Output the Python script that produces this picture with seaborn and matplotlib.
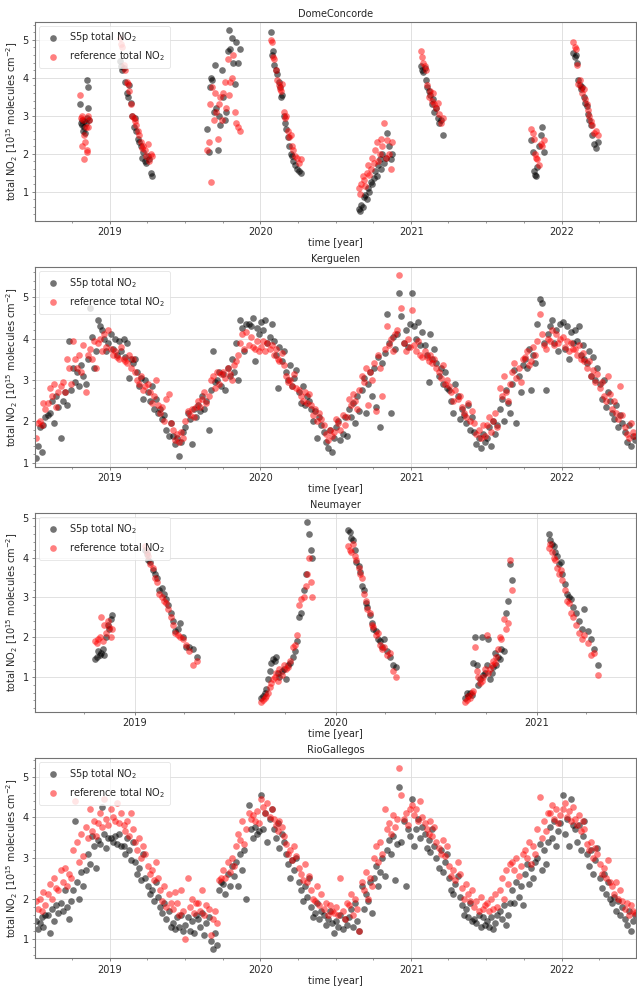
import numpy as np
import pandas as pd
import matplotlib
matplotlib.use("Agg")
import matplotlib.pyplot as plt
import matplotlib.dates as mdates
from matplotlib.ticker import AutoMinorLocator
import seaborn as sns

# ---------------- data (days since 2018-07-01) ----------------
# DomeConcorde
dc_day = [112,114,116,117,119,120,122,123,125,127,128,130,131,133,
          208,211,214,218,221,224,228,231,234,238,241,245,248,251,255,258,262,265,268,272,275,279,283,287,
          420,423,426,429,432,436,439,442,446,449,452,456,459,462,466,469,472,476,479,482,486,490,495,500,
          574,577,580,583,586,590,593,596,599,602,606,609,612,616,619,622,626,629,633,637,642,648,
          787,790,793,797,800,803,807,810,813,817,820,824,827,831,834,838,841,845,849,853,857,861,865,869,
          938,941,944,947,950,954,957,960,964,967,971,975,979,983,987,991,
          1206,1209,1212,1215,1218,1221,1225,1229,1233,1237,
          1308,1311,1314,1317,1320,1323,1327,1330,1333,1337,1340,1343,1347,1350,1354,1358,1362,1367]
dc_s5p = [3.3,2.8,2.75,2.9,2.6,2.85,2.7,2.55,2.8,2.95,3.95,3.75,3.2,2.9,
          4.45,4.3,4.2,4.25,3.9,3.6,3.5,3.8,3.35,3.0,2.7,2.95,2.6,2.4,2.3,2.2,1.9,2.05,1.8,1.75,1.95,1.85,1.5,1.4,
          2.65,2.05,3.75,4.0,3.95,3.1,4.35,3.2,2.1,3.0,2.75,4.2,3.5,2.9,3.1,4.7,5.25,4.75,5.05,4.4,3.85,4.95,4.4,4.75,
          5.2,4.6,4.7,4.35,4.2,4.1,3.9,3.75,3.5,3.55,3.0,2.8,2.65,2.45,2.2,2.0,1.95,1.8,1.7,1.6,1.55,1.5,
          0.55,0.5,0.65,0.6,0.85,0.9,0.8,1.1,1.0,1.25,1.2,1.35,1.55,1.4,1.7,1.85,1.6,2.0,1.75,1.9,2.55,2.2,1.85,2.0,
          4.3,4.2,4.15,4.25,3.95,3.75,3.65,3.55,3.3,3.45,3.1,3.2,2.95,2.8,2.9,2.5,
          2.35,2.05,1.55,1.45,1.4,1.65,2.2,2.5,2.7,2.05,
          4.65,4.55,4.6,4.4,3.95,3.8,3.7,3.75,3.5,3.35,3.25,3.05,2.9,2.75,2.5,2.25,2.15,2.3]
dc_ref = [3.55,2.95,3.0,2.2,2.9,1.85,2.5,2.3,2.7,2.1,2.05,3.0,2.7,2.9,
          5.05,4.9,4.8,4.35,4.2,3.9,3.85,3.65,3.3,3.0,2.95,2.85,2.75,2.6,2.5,2.3,2.15,2.2,2.1,1.95,2.25,1.8,2.0,1.95,
          2.1,2.3,3.3,1.25,3.75,2.9,3.6,3.1,2.4,3.3,3.5,2.9,3.6,3.9,3.2,4.5,3.55,3.9,4.0,4.6,3.1,2.8,2.7,2.6,
          5.0,4.95,4.55,4.5,4.2,3.95,3.8,3.7,3.65,3.85,3.1,2.95,3.0,2.6,2.45,2.5,2.2,2.1,1.95,1.9,1.75,1.85,
          1.1,0.95,1.2,1.4,1.3,1.15,1.5,1.7,1.45,1.6,1.9,1.75,2.1,2.3,1.8,2.0,2.4,2.2,2.8,1.9,2.35,2.0,1.6,2.3,
          4.7,4.55,4.4,4.3,4.2,3.8,3.5,3.65,3.4,3.6,3.3,3.2,3.35,3.05,2.8,2.95,
          2.65,2.55,2.4,2.0,1.9,1.85,1.7,2.25,2.2,2.35,
          4.95,4.8,4.75,4.35,3.85,3.95,3.75,3.6,3.7,3.45,3.3,3.15,3.0,2.85,2.75,2.55,2.6,2.5]

# Neumayer
nm_day = [111,114,117,120,122,125,128,131,134,137,140,142,
          202,205,208,212,216,220,224,228,233,237,241,245,249,253,257,262,266,271,276,282,289,297,
          414,417,420,423,426,429,432,435,438,441,444,447,451,455,459,463,467,471,475,479,483,487,491,495,498,501,504,507,
          572,575,578,581,584,587,591,594,597,600,604,607,611,615,618,622,626,630,634,638,643,648,654,660,
          785,788,791,794,797,800,803,806,809,812,815,818,821,824,827,830,833,836,839,842,845,848,851,855,859,863,867,871,
          937,940,943,946,949,952,956,959,962,966,970,974,978,982,987,992,997,1002,1008,1014,1020,1027]
nm_s5p = [1.45,1.5,1.65,1.55,1.6,1.7,1.55,2.0,2.3,2.2,2.45,2.57,
          4.2,4.1,3.95,3.9,3.7,3.6,3.5,3.2,3.25,3.1,2.95,2.8,2.6,2.4,2.15,2.2,2.35,2.0,1.75,1.75,1.7,1.5,
          0.45,0.5,0.6,0.7,0.95,1.15,1.35,1.45,1.4,1.5,1.1,1.0,1.15,1.2,0.95,1.3,1.35,1.5,1.65,1.9,2.5,2.6,3.2,3.6,4.9,4.6,4.2,4.0,
          4.7,4.65,4.5,4.45,4.2,3.9,3.8,3.65,3.3,3.2,2.85,2.75,2.55,2.35,2.2,2.15,1.95,1.9,1.75,1.95,1.65,1.5,1.3,1.25,
          0.45,0.6,0.5,0.6,0.55,1.35,2.0,1.3,0.8,0.95,2.0,1.05,1.1,1.3,1.95,0.95,1.1,1.25,1.6,1.3,1.5,1.45,1.7,1.65,2.6,2.9,3.85,3.45,
          4.6,4.45,4.35,4.3,4.15,4.05,3.85,3.9,3.6,3.35,3.1,3.0,2.95,2.75,2.6,2.4,2.2,2.7,2.15,1.95,1.7,1.3]
nm_ref = [1.9,1.85,1.95,2.0,2.5,1.9,2.3,2.1,2.4,2.25,2.0,2.2,
          4.3,4.15,4.05,3.85,3.75,3.5,3.4,3.1,3.0,2.9,2.85,2.7,2.5,2.3,2.1,2.05,2.0,1.95,1.8,1.65,1.3,1.4,
          0.35,0.4,0.45,0.5,0.6,0.75,0.85,0.95,1.0,1.1,0.9,1.2,1.05,1.3,1.2,1.25,1.4,1.75,1.8,2.05,2.8,2.95,3.0,3.3,3.6,4.0,3.4,3.0,
          4.3,4.2,4.15,4.35,4.05,3.95,3.75,3.6,3.5,3.1,2.9,2.7,2.6,2.3,2.25,2.05,2.1,1.8,1.7,1.75,1.55,1.6,1.15,1.0,
          0.35,0.4,0.5,0.45,0.6,0.65,1.75,1.15,1.0,0.85,0.9,1.0,1.2,2.05,1.1,1.2,1.3,1.4,1.35,1.5,1.7,2.0,1.95,2.45,2.2,2.35,3.94,3.2,
          4.25,4.35,4.15,4.0,3.95,3.75,3.6,3.7,3.45,3.2,2.9,2.85,2.6,2.5,2.3,2.1,1.95,2.05,1.85,1.55,1.6,1.05]

# Kerguelen and RioGallegos share the same observation days
dense_day = [5,9,13,18,22,27, 33,38,43,48,53,58, 64,69,74,79,84,89, 94,99,104,109,114,119,
             125,130,135,140,145,150, 155,160,165,170,175,180, 186,191,196,201,206,211, 217,221,226,230,235,240,
             245,250,255,260,265,270, 276,281,286,291,296,301, 306,311,316,321,326,331, 337,342,347,352,357,362,
             367,372,377,382,387,392, 398,403,408,413,418,423, 429,434,439,444,449,454, 459,464,469,474,479,484,
             490,495,500,505,510,515, 520,525,530,535,540,545, 551,556,561,566,571,576, 582,586,591,595,600,605,
             611,616,621,626,631,636, 642,647,652,657,662,667, 672,677,682,687,692,697, 703,708,713,718,723,728,
             733,738,743,748,753,758, 764,769,774,779,784,789, 795,800,805,810,815,820, 825,830,835,840,845,850,
             856,861,866,871,876,881, 886,891,896,901,906,911, 917,922,927,932,937,942, 948,952,957,961,966,970,
             976,981,986,991,996,1001, 1007,1012,1017,1022,1027,1032, 1037,1042,1047,1052,1057,1062, 1068,1073,1078,1083,1088,1093,
             1098,1103,1108,1113,1118,1123, 1129,1134,1139,1144,1149,1154, 1160,1165,1170,1175,1180,1185, 1190,1195,1200,1205,1210,1215,
             1221,1226,1231,1236,1241,1246, 1251,1256,1261,1266,1271,1276, 1282,1287,1292,1297,1302,1307, 1313,1317,1322,1326,1331,1335,
             1341,1346,1351,1356,1361,1366, 1372,1377,1382,1387,1392,1397, 1402,1407,1412,1417,1422,1427, 1433,1438,1443,1448,1453,1458]

kg_s5p = [1.1,1.4,1.85,1.25,1.9,2.1, 2.15,2.2,2.5,1.95,2.6,2.35, 1.6,2.5,2.7,2.4,3.95,2.75, 3.3,2.95,3.2,2.85,3.35,3.1,
          2.9,3.5,4.75,4.05,3.3,3.7, 4.45,4.3,4.2,4.0,3.7,3.9, 4.1,3.75,4.0,3.6,3.95,3.7, 4.0,3.55,3.9,3.05,3.5,3.4,
          3.5,3.2,2.85,3.05,2.55,3.0, 2.7,2.5,2.85,2.3,2.55,2.2, 2.3,2.05,2.15,1.8,1.65,1.95, 1.65,1.45,1.6,1.15,1.5,1.75,
          1.85,2.2,2.05,1.45,2.3,2.1, 2.4,2.25,2.6,2.3,2.5,1.8, 2.75,3.7,2.95,3.0,3.2,2.85, 3.15,2.75,3.3,3.1,3.5,3.2,
          3.9,3.0,4.45,4.25,3.7,4.35, 4.35,4.3,4.5,3.45,4.25,4.1, 4.4,4.2,4.45,3.9,4.05,4.35, 3.95,3.6,2.8,3.8,3.45,3.7,
          3.2,3.0,3.35,2.85,3.05,3.25, 2.7,2.45,2.85,2.4,2.6,2.5, 2.3,2.0,2.25,1.6,2.1,1.9, 1.75,1.5,1.35,1.8,1.25,1.6,
          1.85,2.0,1.55,1.7,2.1,1.65, 2.3,2.1,2.45,1.95,2.6,2.25, 2.75,3.05,2.2,2.9,3.2,2.6, 3.3,2.35,3.55,1.85,3.4,3.65,
          4.6,3.9,2.2,4.05,3.75,4.1, 5.1,4.55,3.9,4.2,3.8,4.35, 5.1,4.3,4.0,4.4,3.85,4.15, 3.85,3.6,2.95,4.1,3.5,3.75,
          3.4,3.1,3.3,2.9,3.2,2.8, 2.75,2.5,2.2,2.9,2.6,2.05, 2.3,2.15,1.95,2.4,1.8,2.1, 1.75,1.45,1.6,1.35,1.7,1.5,
          1.6,1.85,1.4,2.0,1.7,1.9, 2.3,2.55,2.0,2.75,2.45,2.2, 2.9,3.25,1.95,3.1,2.7,3.35, 3.5,3.3,3.75,2.75,3.6,3.4,
          4.35,4.95,4.85,3.9,2.75,4.1, 4.3,4.45,3.9,4.2,3.7,4.35, 4.4,3.75,4.3,3.5,4.15,3.9, 4.2,3.95,4.3,3.6,3.85,3.5,
          3.4,3.7,3.1,3.55,3.0,3.3, 2.9,2.55,3.0,2.35,2.7,2.5, 2.2,2.05,2.4,1.85,2.15,1.95, 1.75,1.5,1.9,1.4,1.65,1.55]
kg_ref = [1.6,1.95,2.0,1.9,2.45,2.3, 2.45,2.8,2.6,2.9,2.35,2.7, 2.85,2.95,2.7,3.5,3.3,2.9, 3.95,3.5,3.3,3.6,3.2,3.85,
          2.7,3.6,3.75,3.5,3.95,3.3, 3.9,4.0,3.7,4.1,3.8,4.2, 3.75,3.6,3.7,3.55,3.5,3.8, 3.5,3.45,3.4,3.6,3.3,3.5,
          3.2,3.0,2.9,3.1,2.75,2.85, 2.9,2.7,2.45,2.6,3.0,2.4, 2.2,2.35,2.0,2.55,2.65,1.95, 1.8,1.55,1.7,1.5,1.75,1.6,
          2.0,2.25,2.15,2.3,2.1,2.35, 2.5,2.35,2.55,2.7,2.45,2.6, 3.0,3.1,2.8,3.2,2.9,3.15, 3.2,3.05,3.3,3.15,3.0,3.35,
          3.45,3.6,3.9,4.1,3.75,4.15, 3.85,4.05,3.8,3.75,3.95,3.7, 3.8,3.95,3.7,3.9,3.75,3.85, 3.6,3.75,3.5,3.45,3.65,3.35,
          3.1,2.95,3.0,2.85,3.15,2.8, 2.75,2.6,2.5,2.7,2.45,2.65, 2.4,2.15,2.3,2.0,2.2,2.05, 1.9,1.7,1.55,1.8,1.65,1.75,
          2.05,1.95,1.8,2.15,1.9,2.1, 2.55,2.4,2.65,2.5,2.3,2.75, 3.1,2.95,3.3,2.4,3.2,3.0, 3.4,2.25,3.6,3.3,2.6,3.75,
          4.3,3.85,4.0,3.7,4.1,4.2, 5.55,4.75,3.9,3.7,4.0,3.8, 4.7,3.85,3.7,3.95,3.6,3.55, 3.7,3.55,3.45,3.6,3.4,3.5,
          3.3,3.2,3.05,3.35,2.9,3.0, 2.85,2.7,2.5,2.75,2.55,2.6, 2.35,2.2,2.1,2.45,2.0,2.25, 1.95,1.7,1.8,1.6,1.9,1.65,
          1.9,2.1,1.75,2.0,2.2,1.85, 2.8,2.6,3.1,2.7,2.5,2.9, 3.2,3.4,3.05,3.3,2.95,3.5, 3.55,3.7,3.35,3.45,3.8,3.6,
          3.95,4.6,4.1,3.85,3.75,4.0, 3.95,4.2,3.85,4.1,3.9,4.0, 4.05,3.8,3.95,3.7,3.9,3.75, 3.75,3.6,3.85,3.5,3.65,3.45,
          3.3,3.45,3.1,3.25,2.95,3.15, 2.8,2.95,2.6,2.5,3.1,2.65, 2.3,2.5,2.2,2.05,2.85,2.15, 1.85,1.7,1.6,1.95,1.75,1.65]

rg_s5p = [1.45,1.25,1.4,1.55,1.3,1.6, 1.6,1.15,1.75,1.45,1.85,1.65, 1.9,1.7,2.2,1.8,1.5,1.95, 2.2,3.9,2.4,2.0,2.65,2.3,
          2.7,3.1,2.85,3.55,3.3,2.75, 3.45,3.35,4.25,3.6,3.25,3.5, 3.5,3.4,3.55,3.35,3.6,3.3, 3.3,3.1,3.5,3.2,2.95,3.4,
          2.9,2.6,2.75,2.45,3.1,2.5, 2.3,2.1,2.2,1.95,2.4,2.05, 1.8,1.65,1.9,1.5,1.7,1.3, 1.4,1.25,1.55,1.3,1.6,1.2,
          1.35,1.55,1.2,1.45,1.15,1.6, 1.5,1.3,1.65,1.1,1.4,1.55, 0.95,0.75,1.15,0.85,2.2,2.4, 2.35,2.1,2.6,2.3,2.8,2.55,
          2.9,2.3,3.1,2.7,3.2,2.0, 4.3,3.7,3.5,3.75,3.6,3.65, 4.55,3.7,4.1,3.4,3.95,4.2, 3.7,3.5,3.85,3.25,3.6,3.4,
          3.1,2.85,2.5,2.95,2.7,3.0, 2.4,2.2,1.95,2.3,2.05,2.5, 1.8,1.55,1.65,1.9,1.5,1.7, 1.6,1.35,1.5,1.7,1.4,1.15,
          1.45,1.3,1.6,1.25,1.5,1.35, 1.55,1.75,1.3,1.9,1.45,1.2, 2.3,1.75,2.1,1.95,2.4,1.65, 2.5,2.8,2.3,2.65,3.0,2.55,
          3.2,3.45,3.1,3.55,2.45,3.35, 4.75,3.4,3.9,2.3,3.7,3.55, 4.45,3.3,3.7,3.95,3.5,3.75, 3.6,3.25,3.45,3.15,3.7,3.3,
          3.0,2.75,3.2,2.65,2.9,3.1, 2.5,2.2,2.1,2.35,2.55,2.05, 1.85,1.6,1.75,1.55,1.9,1.45, 1.5,1.4,1.6,1.3,1.55,1.35,
          1.45,1.3,1.55,1.25,1.4,1.6, 1.7,1.5,1.85,1.35,1.6,1.9, 2.2,1.9,2.4,2.05,2.3,1.85, 2.6,2.85,2.35,2.75,2.5,2.9,
          3.0,3.35,2.7,3.2,2.85,3.4, 3.75,3.5,3.9,3.3,3.65,3.85, 4.55,3.6,3.95,3.3,4.45,3.8, 3.7,3.4,3.8,3.2,3.55,3.9,
          3.1,2.8,3.2,2.6,2.95,3.25, 2.5,2.25,2.6,2.1,2.4,2.0, 1.9,2.05,1.7,1.95,1.6,1.8, 1.5,1.35,1.7,1.2,1.45,1.6]
rg_ref = [1.95,1.75,2.0,1.7,2.15,1.85, 2.1,2.35,2.0,2.5,2.25,2.2, 2.7,2.4,2.75,2.3,2.6,2.5, 3.2,4.4,3.4,2.9,3.6,3.05,
          3.75,3.5,4.2,3.65,3.9,3.55, 3.85,4.1,3.75,4.45,3.95,3.8, 4.2,4.0,3.9,4.35,3.85,4.1, 3.8,3.65,3.9,3.55,4.1,3.7,
          3.4,3.2,3.5,3.0,3.3,3.1, 2.8,2.6,2.7,2.45,2.9,2.5, 2.2,1.95,2.3,1.8,2.1,1.9, 1.75,2.15,1.9,1.6,2.2,1.7,
          1.0,2.5,1.8,2.0,1.65,1.9, 1.9,1.7,2.2,1.6,1.85,1.75, 1.1,1.5,1.7,1.4,2.45,2.5, 2.7,2.5,2.9,2.65,3.0,2.8,
          3.3,3.6,3.45,3.9,3.35,3.7, 4.1,3.95,4.05,3.9,4.15,3.85, 4.45,4.25,4.1,4.35,4.0,4.2, 3.95,3.8,3.65,3.9,3.75,3.55,
          3.35,3.1,3.2,2.95,3.3,3.05, 2.75,2.6,2.45,2.85,2.4,2.55, 2.2,2.0,1.95,2.3,1.85,2.1, 1.75,1.9,1.6,1.85,1.7,1.65,
          1.8,1.6,2.5,1.7,1.5,1.9, 1.85,2.1,1.6,2.0,1.75,1.2, 2.4,2.2,2.65,2.0,2.5,2.3, 3.0,3.3,2.9,3.4,3.1,4.2,
          3.7,3.85,3.6,4.05,3.75,3.95, 5.2,4.55,3.95,4.1,3.8,4.2, 4.3,4.05,4.2,3.9,4.4,4.0, 3.85,3.7,3.6,3.9,3.55,3.75,
          3.4,3.25,3.1,3.45,3.05,3.3, 2.8,2.55,2.7,2.45,2.9,2.6, 2.25,2.0,2.35,2.1,1.95,2.2, 1.8,1.95,1.7,2.05,1.75,1.85,
          1.9,1.7,2.0,1.75,2.1,1.8, 2.2,2.5,2.0,2.7,2.35,2.85, 2.9,2.7,3.0,2.55,2.8,3.1, 3.2,3.0,3.4,2.85,3.3,3.1,
          3.7,4.5,3.5,3.9,3.65,4.1, 4.1,4.3,3.95,4.2,3.85,4.05, 4.2,4.35,4.0,4.15,3.9,4.25, 3.95,3.8,4.05,3.65,3.9,3.7,
          3.35,3.2,3.4,3.0,3.25,3.1, 2.85,2.6,2.75,2.5,2.95,2.4, 2.3,2.1,2.4,2.0,2.2,1.95, 1.75,1.9,1.6,1.85,1.7,1.65]

titles = ["DomeConcorde", "Kerguelen", "Neumayer", "RioGallegos"]

# ---------------- styling ----------------
sns.set_style("whitegrid")
plt.rcParams.update({
    "font.family": ["DejaVu Sans"],
    "axes.edgecolor": "0.45",
    "axes.linewidth": 0.8,
    "xtick.bottom": True, "ytick.left": True,
    "xtick.color": "0.45", "ytick.color": "0.45",
    "xtick.labelcolor": "0.15", "ytick.labelcolor": "0.15",
    "xtick.major.size": 2.5, "ytick.major.size": 2.5,
    "xtick.minor.size": 1.5, "ytick.minor.size": 1.5,
    "xtick.major.width": 0.6, "ytick.major.width": 0.6,
    "xtick.minor.width": 0.5, "ytick.minor.width": 0.5,
    "xtick.major.pad": 2.0, "ytick.major.pad": 2.0,
    "xtick.labelsize": 7, "ytick.labelsize": 7,
})

base = pd.Timestamp("2018-07-01")
def to_dates(days):
    return base + pd.to_timedelta(np.asarray(days), unit="D")

panels = [
    (dc_day, dc_s5p, dc_ref, (2, 1460), (0.235, 5.48), [35/637, 1-220.7/988, 601/637, 199/988]),
    (dense_day, kg_s5p, kg_ref, (2, 1460), (0.90, 5.725), [35/637, 1-466.7/988, 601/637, 199.4/988]),
    (nm_day, nm_s5p, nm_ref, (2, 1096), (0.116, 5.126), [35/637, 1-711.7/988, 601/637, 198.4/988]),
    (dense_day, rg_s5p, rg_ref, (2, 1460), (0.53, 5.45), [35/637, 1-958.3/988, 601/637, 200/988]),
]

fig = plt.figure(figsize=(6.37, 9.88), dpi=100)
for title, (days, s5p, ref, xl, yl, rect) in zip(titles, panels):
    ax = fig.add_axes(rect)
    d = to_dates(days)
    sns.scatterplot(x=d, y=s5p, color="black", alpha=0.55, s=23, linewidth=0,
                    ax=ax, label="S5p total NO$_2$")
    sns.scatterplot(x=d, y=ref, color="red", alpha=0.5, s=23, linewidth=0,
                    ax=ax, label="reference total NO$_2$")
    ax.set_xlim(base + pd.Timedelta(days=xl[0]), base + pd.Timedelta(days=xl[1]))
    ax.set_ylim(*yl)
    ax.xaxis.set_major_locator(mdates.YearLocator())
    ax.xaxis.set_major_formatter(mdates.DateFormatter("%Y"))
    ax.xaxis.set_minor_locator(mdates.MonthLocator(bymonth=[1, 4, 7, 10]))
    ax.yaxis.set_minor_locator(AutoMinorLocator(5))
    ax.grid(True, which="major", color="#dcdcdc", linewidth=0.6)
    ax.grid(False, which="minor")
    ax.set_title(title, fontsize=7, pad=3.5, color="0.15")
    ax.set_xlabel("time [year]", fontsize=7, labelpad=1, color="0.15")
    ax.set_ylabel("total NO$_2$ [10$^{15}$ molecules cm$^{-2}$]", fontsize=7, labelpad=2, color="0.15")
    leg = ax.legend(loc="upper left", fontsize=7, frameon=True, handletextpad=0.6,
                    borderpad=0.5, labelspacing=0.5, borderaxespad=0.4)
    leg.get_frame().set_edgecolor("#dddddd")
    leg.get_frame().set_linewidth(0.6)
    for txt in leg.get_texts():
        txt.set_color("0.15")

fig.savefig("out.png", dpi=100)
